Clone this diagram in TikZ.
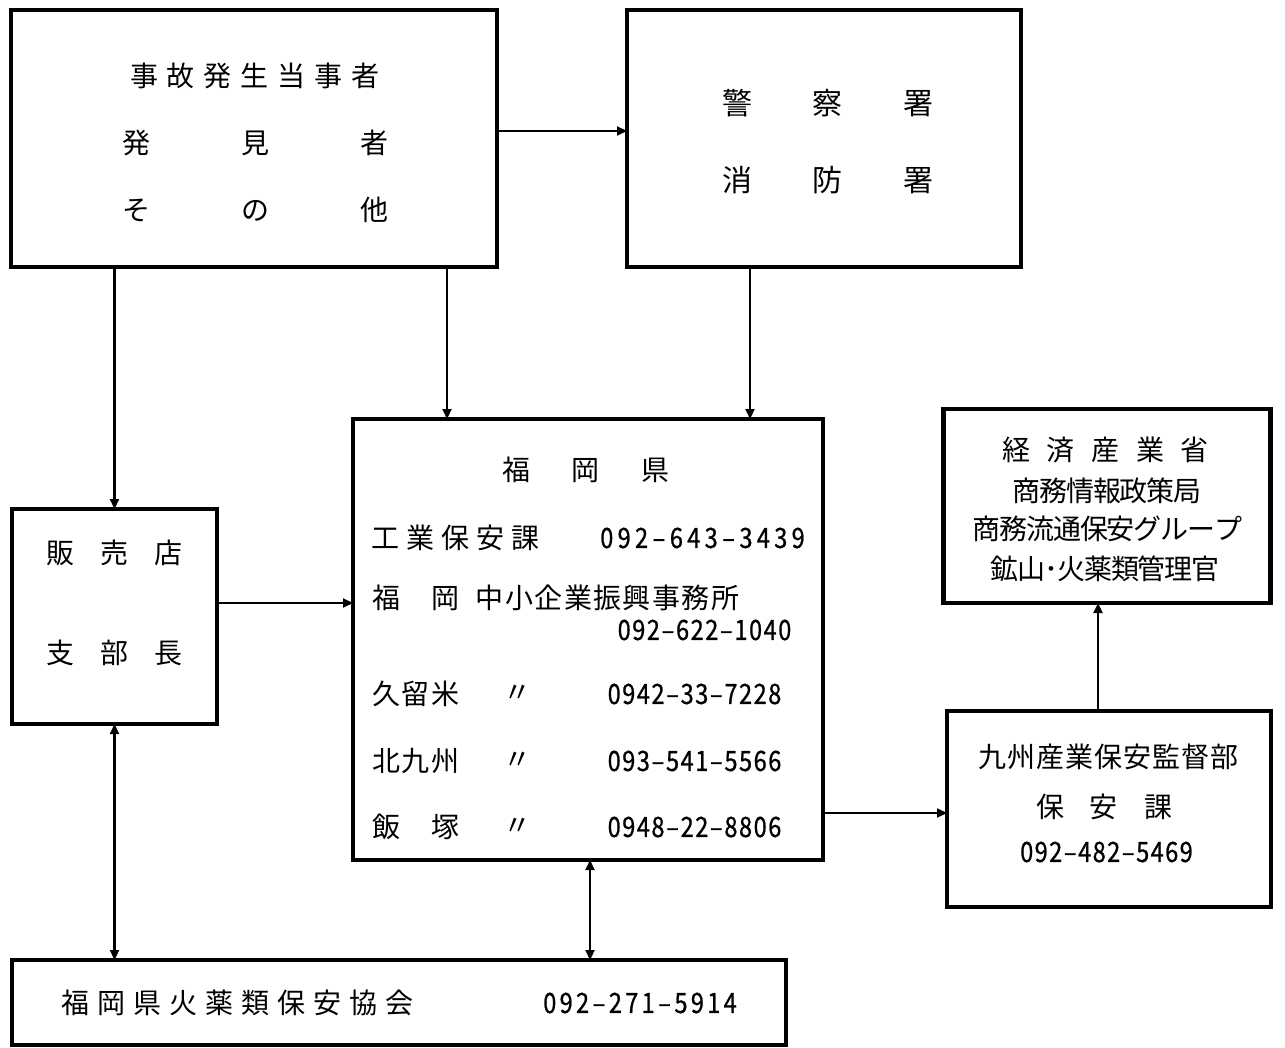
\documentclass[tikz,border=0pt]{standalone}
\usepackage{fontspec}
\setmainfont{Noto Sans CJK JP}
\newfontfamily\numfont[FakeStretch=0.84,FakeBold=0.8]{Noto Sans CJK JP}
\usetikzlibrary{arrows.meta}
\makeatletter
\newcommand\Spaced[2]{\def\SpW{#1}\@tfor\SpC:=#2\do{\makebox[\SpW]{\SpC}}}
\makeatother
\tikzset{
  box/.style={draw, line width=4.8pt, inner sep=0pt, outer sep=0pt},
  jp/.style={font=\fontsize{28}{30}\selectfont, inner sep=0pt, anchor=center},
  jpb/.style={font=\fontsize{30}{32}\selectfont, inner sep=0pt, anchor=center},
  num/.style={font=\numfont\fontsize{28}{30}\selectfont, inner sep=0pt, anchor=center},
  arr/.style={line width=2.2pt, -{Triangle[length=10pt,width=9pt]}},
  darr/.style={line width=2.2pt, {Triangle[length=10pt,width=9pt]}-{Triangle[length=10pt,width=9pt]}},
}
\begin{document}
\begin{tikzpicture}[x=1pt,y=-1pt]
\useasboundingbox (0,0) rectangle (1285,1048);
% boxes
\node[box, minimum width=486pt, minimum height=257pt] (A) at (254,138.5) {};
\node[box, minimum width=394pt, minimum height=257pt] (B) at (824,138.5) {};
\node[box, minimum width=470pt, minimum height=441pt] (C) at (588,639.5) {};
\node[box, minimum width=205pt, minimum height=215pt] (D) at (114.5,616.5) {};
\node[box, minimum width=327pt, minimum height=194pt] (E) at (1107,506) {};
\node[box, minimum width=324pt, minimum height=196pt] (F) at (1109,809) {};
\node[box, minimum width=774pt, minimum height=85pt] (G) at (399,1002.5) {};
% texts A
\node[jp] (a1) at (255,76) {\Spaced{37pt}{事故発生当事者}};
\node[jp] (a2) at (255,143) {\Spaced{119pt}{発見者}};
\node[jp] (a3) at (255,210) {\Spaced{119pt}{その他}};
% texts B
\node[jpb] (b1) at (828,103) {\Spaced{91pt}{警察署}};
\node[jpb] (b2) at (828,180) {\Spaced{91pt}{消防署}};
% texts C
\node[jp] (c0) at (586,470) {\Spaced{70pt}{福岡県}};
\node[jp] (c1) at (455.5,538) {\Spaced{35pt}{工業保安課}};
\node[num] (c1n) at (702.5,538) {\Spaced{17.4pt}{092–643–3439}};
\node[jp] (c2a) at (415.5,598) {\Spaced{59pt}{福岡}};
\node[jp] (c2b) at (607.5,598) {\Spaced{29.4pt}{中小企業振興事務所}};
\node[num] (c2n) at (704.5,630) {\Spaced{14.6pt}{092–622–1040}};
\node[jp] (c3) at (415.5,694) {\Spaced{29.5pt}{久留米}};
\node[jp] (c3d) at (517,694) {〃};
\node[num] (c3n) at (694.5,694) {\Spaced{14.6pt}{0942–33–7228}};
\node[jp] (c4) at (415.5,761) {\Spaced{29.5pt}{北九州}};
\node[jp] (c4d) at (517,761) {〃};
\node[num] (c4n) at (694.5,761) {\Spaced{14.6pt}{093–541–5566}};
\node[jp] (c5) at (415.5,827) {\Spaced{59pt}{飯塚}};
\node[jp] (c5d) at (517,827) {〃};
\node[num] (c5n) at (694.5,827) {\Spaced{14.6pt}{0948–22–8806}};
% texts D
\node[jp] (d1) at (114.5,553) {\Spaced{54pt}{販売店}};
\node[jp] (d2) at (114.5,653) {\Spaced{54pt}{支部長}};
% texts E
\node[jp] (e1) at (1105.5,450) {\Spaced{44.7pt}{経済産業省}};
\node[jp] (e2) at (1107,491) {\Spaced{26.8pt}{商務情報政策局}};
\node[jp] (e3) at (1107.5,529) {\Spaced{26.9pt}{商務流通保安グループ}};
\node[jp] (e4) at (1105,569) {\Spaced{26.8pt}{鉱山}\makebox[13.4pt]{･}\Spaced{26.8pt}{火薬類管理官}};
% texts F
\node[jp] (f1) at (1108.5,757) {\Spaced{29.1pt}{九州産業保安監督部}};
\node[jp] (f2) at (1104,807) {\Spaced{54pt}{保安課}};
\node[num] (f3) at (1106.5,852) {\Spaced{14.5pt}{092–482–5469}};
% texts G
\node[jp] (g1) at (237.5,1003) {\Spaced{36pt}{福岡県火薬類保安協会}};
\node[num] (g2) at (640,1003) {\Spaced{16.4pt}{092–271–5914}};
% connectors
\draw[arr] ([yshift=7.5pt]A.east) -- ([yshift=7.5pt]B.west);
\draw[arr] (A.south -| D.north) -- (D.north);
\draw[arr] ([xshift=193pt]A.south) -- ([xshift=193pt]A.south |- C.north);
\draw[arr] ([xshift=-74pt]B.south) -- ([xshift=-74pt]B.south |- C.north);
\draw[arr] ([yshift=13.5pt]D.east) -- ([yshift=13.5pt]D.east -| C.west);
\draw[darr] (D.south) -- (D.south |- G.north);
\draw[darr] ([xshift=2pt]C.south) -- ([xshift=2pt]C.south |- G.north);
\draw[arr] ([yshift=-173.5pt]C.east) -- ([yshift=-173.5pt]C.east -| F.west);
\draw[arr] ([xshift=-11pt]F.north) -- ([xshift=-11pt]F.north |- E.south);
\end{tikzpicture}
\end{document}
